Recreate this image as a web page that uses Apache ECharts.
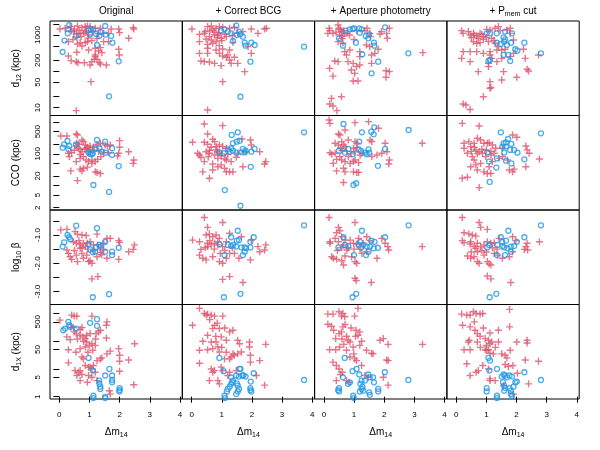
<!DOCTYPE html>
<html><head><meta charset="utf-8">
<script src="https://cdn.jsdelivr.net/npm/echarts@6/dist/echarts.min.js"></script>
<style>html,body{margin:0;padding:0;background:#fff}#c{width:600px;height:450px}</style>
</head><body><div id="c"></div>
<script>
// ---------- text ----------
const columnTitles = ['{a|Original}', '{a|+ Correct BCG}', '{a|+ Aperture photometry}', '{a|+ P}{s|mem}{a| cut}'];
const rowTitles = ['{a|d}{s|12}{a| (kpc)}', '{a|CCO (kpc)}', '{a|log}{s|10}{a| β}', '{a|d}{s|1X}{a| (kpc)}'];
const xTitle = '{a|Δm}{s|14}';

// ---------- ticks ----------
const xTicks = [0, 1, 2, 3, 4];
const d12Ticks = [10, 20, 50, 100, 200, 500, 1000, 2000];
const d12Labels = [10, 50, 200, 1000];
const ccoTicks = [2, 5, 10, 20, 50, 100, 200, 500, 1000];
const ccoLabels = [2, 5, 20, 100, 500];
const betaTicks = [-3, -2.5, -2, -1.5, -1, -0.5];
const betaLabels = [-3, -2, -1];
const d1xTicks = [1, 5, 10, 50, 100, 500, 1000];
const d1xLabels = [1, 5, 50, 500];

// ---------- data: [Δm14, value] ----------
// Row 1: d12 (kpc)
const d12_orig_red = [[0.02,1460],[0.19,1530],[0.36,1700],[0.47,1240],[0.60,1770],[0.75,1590],[0.86,1700],[0.93,1770],[1.02,1700],[0.69,1110],[0.80,1110],[0.58,1070],[0.89,1290],[0.97,1000],[1.19,1530],[1.36,1530],[1.47,1110],[1.63,1110],[1.72,1460],[1.97,1460],[2.0,1160],[2.47,1460],[2.45,1590],[2.30,810],[0.30,656],[0.58,863],[0.69,615],[0.60,566],[0.86,615],[0.93,656],[1.08,698],[0.75,499],[0.97,387],[1.19,430],[1.36,449],[1.47,656],[1.63,656],[1.41,327],[1.30,363],[1.97,404],[1.99,282],[0.58,334],[0.30,264],[0.39,197],[0.56,185],[0.62,173],[0.83,173],[1.02,150],[1.08,185],[1.19,253],[1.16,214],[1.25,214],[1.32,177],[1.36,159],[1.56,150],[1.19,282],[1.05,52],[0.56,8.3],[0.40,1300],[0.50,1450],[0.65,1350],[0.85,1200],[1.10,1250],[0.72,900],[0.95,820],[1.30,1100],[0.45,750],[1.25,800]];
const d12_orig_blue = [[0.33,1880],[0.30,1430],[0.28,1110],[0.17,700],[0.11,340],[0.56,960],[0.97,1370],[1.05,1430],[1.13,1430],[1.02,1040],[1.22,1070],[1.36,1210],[1.33,960],[1.52,1770],[1.53,1020],[1.72,940],[1.76,615],[1.25,530],[1.97,189],[1.65,20.6]];
const d12_bcg_red = [[0.01,1460],[0.26,1040],[0.42,1110],[0.53,1700],[0.65,1770],[0.70,1370],[0.81,1530],[0.92,1700],[1.03,1630],[0.76,1000],[0.87,1000],[0.59,900],[0.48,776],[0.65,730],[0.81,656],[0.98,810],[1.15,900],[1.26,1530],[1.42,1630],[1.53,1110],[1.70,1240],[1.98,1460],[2.20,1110],[2.42,1460],[2.48,1530],[0.26,656],[0.53,553],[0.70,590],[0.92,509],[0.53,430],[0.81,387],[1.03,412],[1.26,387],[1.37,628],[1.87,478],[1.98,313],[0.26,313],[0.53,313],[1.03,264],[1.15,243],[1.26,205],[1.42,243],[0.31,193],[0.42,185],[0.59,181],[0.76,166],[0.98,144],[1.31,166],[1.53,166],[1.76,98],[1.03,52],[0.53,8.6],[0.92,313],[1.20,282],[0.60,1300],[0.75,1200],[0.90,1150],[1.10,1050],[0.45,1250],[1.00,700],[1.35,950],[0.85,850]];
const d12_bcg_blue = [[1.48,1810],[1.09,1430],[0.98,1290],[1.20,1240],[1.31,1110],[1.57,1240],[1.62,1040],[1.50,1000],[1.70,900],[1.37,684],[1.76,615],[1.79,509],[1.98,615],[2.09,531],[1.95,185],[1.62,20],[3.73,478]];
const d12_aper_red = [[0.19,1315],[0.30,1110],[0.13,1110],[0.47,1880],[0.50,1530],[0.58,1240],[0.52,1000],[0.63,940],[0.69,1110],[0.77,1110],[1.08,1315],[1.36,1315],[1.43,1530],[1.52,1110],[1.54,900],[1.91,1240],[2.08,1110],[2.10,810],[2.17,1530],[1.86,1067],[0.47,656],[0.63,590],[0.69,348],[0.75,282],[1.19,348],[1.19,254],[1.41,531],[1.52,478],[1.80,405],[1.69,313],[1.58,282],[1.58,166],[0.36,193],[0.47,185],[0.80,185],[0.97,166],[1.08,135],[1.19,150],[0.91,109],[1.02,88],[0.19,121],[0.30,74],[0.97,54],[1.13,54],[2.06,104],[2.17,98],[2.06,69],[0.25,18],[0.58,20],[0.19,12.6],[0.30,11.1],[0.43,8.3],[3.28,327],[0.17,1530],[0.86,387],[0.55,1400],[0.65,1300],[0.40,1200],[0.85,1000],[1.00,750],[0.60,800]];
const d12_aper_blue = [[0.72,1315],[0.86,1430],[0.95,1460],[1.00,1530],[1.17,1530],[1.25,1430],[1.19,1160],[1.39,940],[1.50,1044],[1.47,810],[0.50,810],[0.63,509],[1.06,615],[1.66,615],[1.67,509],[1.27,294],[1.80,185],[1.58,88],[2.03,1630],[2.80,313]];
const d12_pmem_red = [[0.18,1315],[0.23,1110],[0.40,1240],[0.46,1000],[0.57,1110],[0.68,940],[0.73,810],[0.79,1110],[0.90,900],[1.01,1430],[1.12,1370],[1.29,1530],[1.40,1700],[1.46,1315],[1.68,1370],[1.79,1530],[0.57,656],[0.68,590],[0.79,615],[0.90,760],[1.07,656],[1.18,810],[1.29,590],[1.40,478],[1.51,387],[1.62,405],[1.90,730],[2.23,405],[0.23,348],[0.46,348],[0.68,348],[0.90,313],[1.12,348],[1.35,387],[0.18,228],[0.46,185],[0.73,98],[1.12,282],[1.18,228],[1.07,135],[1.07,166],[1.35,185],[1.51,228],[1.79,254],[1.90,313],[2.29,228],[2.35,114],[2.40,102],[2.01,69],[1.57,98],[1.51,58],[1.12,52],[1.15,36],[1.12,34],[0.90,20],[0.23,12.6],[0.32,11.8],[0.46,8.9],[2.73,282],[1.79,1110],[0.60,1000],[0.85,1050],[1.00,850],[0.50,850],[1.25,700]];
const d12_pmem_blue = [[1.01,1110],[1.12,1110],[1.34,1110],[1.62,1240],[1.85,1110],[1.57,863],[1.62,760],[1.34,615],[1.48,566],[1.59,656],[1.68,531],[1.82,615],[1.96,405],[2.03,371],[2.26,615],[1.57,282],[1.73,282],[1.79,193],[1.12,205],[1.07,193],[2.81,313]];

// Row 2: CCO (kpc)
const cco_orig_red = [[0.05,366],[0.25,366],[0.56,424],[0.60,394],[0.75,274],[0.80,243],[0.58,215],[0.56,177],[0.63,150],[0.69,133],[0.86,191],[0.93,161],[1.02,177],[1.13,161],[1.25,200],[1.36,215],[1.52,191],[1.60,177],[1.69,191],[2.00,261],[2.00,161],[2.30,117],[2.47,64],[2.45,50],[1.97,104],[1.93,86],[0.30,104],[0.33,82],[0.41,109],[0.56,57],[0.69,72],[0.80,82],[0.89,64],[0.97,57],[1.08,64],[1.19,57],[1.27,67],[1.38,82],[1.47,109],[1.63,109],[0.38,29],[0.69,33],[0.75,29],[0.80,35],[0.93,38],[1.08,50],[1.19,27],[1.25,26],[1.36,24],[0.60,14.3],[0.89,150],[0.97,117],[0.75,117],[0.65,200],[0.85,140],[1.00,140],[1.15,130],[0.70,95],[1.30,120],[0.50,130]];
const cco_orig_blue = [[0.11,157],[0.16,200],[0.27,255],[0.30,139],[0.33,177],[0.56,200],[0.97,109],[1.02,99],[1.08,97],[1.11,104],[1.25,274],[1.19,150],[1.33,150],[1.41,117],[1.52,243],[1.53,109],[1.75,150],[1.75,92],[1.97,41],[1.13,10.4],[1.65,6.3]];
const cco_bcg_red = [[0.42,875],[1.03,776],[0.53,424],[0.03,231],[0.42,231],[0.70,288],[0.76,243],[0.53,200],[0.65,161],[0.81,169],[0.92,191],[1.03,169],[1.15,150],[1.67,294],[1.95,274],[1.98,191],[2.26,117],[0.20,104],[0.26,92],[0.31,78],[0.48,117],[0.59,104],[0.76,92],[0.87,72],[0.98,86],[1.15,64],[1.31,57],[1.48,78],[1.53,104],[1.81,117],[0.42,57],[0.70,48],[0.87,39],[0.98,45],[1.09,35],[0.70,31],[1.15,27],[1.26,27],[1.37,27],[1.70,39],[0.37,27],[0.59,16.9],[2.46,57],[2.42,48],[0.92,109],[0.81,133],[0.60,130],[0.85,120],[1.00,100],[1.20,95],[0.55,80],[1.10,70]];
const cco_bcg_blue = [[1.33,394],[1.53,478],[1.37,215],[1.50,243],[1.59,261],[1.70,143],[0.92,112],[1.07,104],[1.20,139],[1.26,117],[1.37,126],[1.48,109],[1.65,112],[1.76,112],[1.79,126],[1.98,117],[2.09,143],[1.96,39],[1.10,7.2],[1.62,2.3],[3.73,478],[1.31,150]];
const cco_aper_red = [[0.17,1170],[0.20,918],[1.03,963],[1.48,1037],[1.81,639],[0.70,566],[0.48,424],[0.53,394],[0.37,215],[0.48,191],[0.59,243],[0.65,191],[0.70,169],[0.81,274],[1.03,243],[1.09,215],[0.98,150],[1.59,243],[1.53,274],[2.03,215],[2.09,117],[2.17,64],[2.15,48],[1.76,92],[1.59,82],[1.26,104],[1.03,117],[0.20,109],[0.26,97],[0.37,104],[0.31,50],[0.42,67],[0.53,82],[0.59,64],[0.70,57],[0.87,50],[0.98,57],[1.03,64],[1.15,53],[0.42,29],[0.65,35],[0.70,27],[0.98,27],[1.09,26],[1.15,26],[0.65,12.4],[3.26,215],[1.92,104],[0.81,82],[0.60,130],[0.75,120],[0.90,100],[1.20,90],[0.55,150],[1.10,160]];
const cco_aper_blue = [[0.65,875],[1.26,478],[1.67,688],[1.57,501],[1.65,413],[2.81,566],[1.17,243],[0.50,126],[0.70,109],[0.81,143],[0.95,97],[1.15,139],[1.23,123],[1.37,109],[1.42,97],[1.50,109],[1.48,139],[2.03,143],[1.79,42],[0.98,10.4],[1.07,11.8]];
const cco_pmem_red = [[0.20,918],[0.76,757],[0.70,309],[0.81,274],[0.26,215],[0.42,243],[0.59,215],[0.26,150],[0.48,169],[0.65,133],[0.76,117],[0.92,215],[1.03,215],[1.09,225],[1.20,191],[1.31,150],[1.53,150],[1.87,394],[2.01,333],[2.31,177],[2.35,133],[2.42,104],[2.76,69],[0.37,104],[0.53,82],[0.59,64],[0.87,104],[0.98,82],[1.15,92],[1.26,104],[1.42,72],[1.20,57],[0.48,39],[0.65,45],[0.70,31],[0.92,27],[1.03,24],[1.15,24],[1.76,31],[1.87,27],[1.92,33],[2.31,39],[0.20,16.9],[0.37,18.2],[0.76,8.6],[1.53,82],[1.70,64],[1.09,39],[0.81,50],[0.60,160],[0.85,140],[1.00,130],[0.70,100],[1.15,120],[0.50,120]];
const cco_pmem_blue = [[1.48,478],[2.81,444],[1.72,294],[1.65,231],[1.83,205],[1.57,215],[1.53,169],[1.65,169],[1.03,112],[1.09,57],[1.35,72],[1.59,109],[1.79,133],[1.92,133],[2.03,109],[1.65,61],[1.83,50],[2.26,67],[1.33,37],[1.11,13]];

// Row 3: log10 beta
const beta_orig_red = [[0.05,-0.82],[0.25,-0.80],[0.52,-0.88],[0.60,-0.97],[0.75,-1.0],[0.89,-1.02],[1.25,-0.97],[0.47,-1.24],[0.56,-1.29],[0.69,-1.35],[0.80,-1.29],[0.86,-1.41],[0.93,-1.29],[1.02,-1.24],[1.13,-1.35],[1.27,-1.35],[1.36,-1.44],[1.47,-1.29],[1.58,-1.12],[1.69,-1.12],[1.97,-1.2],[2.00,-1.26],[2.30,-1.59],[2.45,-1.51],[2.49,-1.35],[1.97,-1.86],[0.25,-1.53],[0.30,-1.65],[0.36,-1.77],[0.41,-1.86],[0.56,-1.71],[0.60,-1.94],[0.75,-1.65],[0.80,-1.82],[0.91,-1.71],[0.97,-1.94],[1.02,-1.91],[1.08,-2.0],[1.25,-1.77],[1.36,-1.62],[1.58,-1.82],[1.08,-2.55],[1.28,-2.47],[0.69,-1.47],[1.47,-1.53],[0.65,-1.2],[0.75,-1.45],[0.95,-1.5],[1.15,-1.55],[1.40,-1.7],[0.50,-1.55]];
const beta_orig_blue = [[0.56,-0.67],[1.25,-0.76],[0.27,-1.0],[0.32,-1.08],[0.36,-1.15],[0.16,-1.26],[0.11,-1.41],[0.97,-1.32],[1.02,-1.51],[1.11,-1.61],[1.19,-1.59],[1.22,-1.44],[1.36,-1.41],[1.33,-1.35],[1.52,-1.24],[1.52,-1.59],[1.75,-1.59],[1.75,-1.71],[1.97,-1.45],[1.11,-3.20],[1.65,-3.09]];
const beta_bcg_red = [[0.42,-0.38],[1.03,-0.56],[0.53,-0.73],[0.03,-1.18],[0.26,-1.24],[0.48,-1.0],[0.59,-0.96],[0.70,-1.06],[0.81,-1.0],[0.92,-1.12],[0.53,-1.29],[0.65,-1.35],[0.76,-1.29],[0.87,-1.35],[1.03,-1.41],[1.15,-1.24],[1.26,-0.94],[1.65,-1.06],[1.98,-1.18],[2.20,-1.41],[2.46,-1.35],[2.26,-1.59],[2.42,-1.53],[0.26,-1.71],[0.37,-1.82],[0.48,-1.88],[0.70,-1.77],[0.92,-1.94],[1.03,-2.0],[1.15,-1.82],[1.26,-1.65],[1.42,-1.65],[1.57,-1.82],[1.95,-1.88],[0.53,-1.41],[0.31,-1.51],[1.03,-2.57],[1.26,-2.47],[1.70,-2.68],[0.87,-1.24],[0.60,-1.2],[0.75,-1.5],[1.10,-1.55],[0.95,-1.65],[1.35,-1.45],[0.45,-1.45]];
const beta_bcg_blue = [[1.53,-0.85],[3.73,-0.66],[1.31,-1.08],[1.57,-1.18],[1.50,-1.20],[2.06,-1.08],[1.95,-1.24],[0.92,-1.33],[1.20,-1.35],[1.31,-1.39],[1.37,-1.35],[1.48,-1.41],[1.65,-1.44],[1.76,-1.44],[1.81,-1.47],[1.76,-1.59],[1.70,-1.71],[1.09,-1.71],[1.95,-1.44],[1.07,-3.20],[1.62,-3.08]];
const beta_aper_red = [[0.17,-0.38],[1.03,-0.56],[0.48,-0.73],[0.42,-0.92],[0.53,-0.85],[0.20,-1.24],[0.20,-1.29],[0.37,-1.12],[0.48,-1.24],[0.59,-1.06],[0.70,-1.18],[0.87,-1.18],[0.98,-1.29],[1.15,-1.12],[1.09,-1.32],[1.42,-1.06],[1.53,-1.20],[1.92,-1.12],[2.03,-1.29],[2.15,-1.53],[2.12,-1.41],[3.26,-1.41],[1.76,-1.82],[0.26,-1.77],[0.31,-1.82],[0.42,-1.86],[0.59,-1.91],[0.65,-2.06],[0.70,-1.74],[0.92,-1.77],[1.03,-1.94],[1.09,-2.0],[1.26,-1.65],[1.42,-1.59],[1.03,-2.53],[1.07,-2.61],[1.57,-2.68],[0.76,-1.53],[0.59,-1.44],[0.65,-1.35],[0.80,-1.45],[1.00,-1.5],[1.20,-1.5],[0.45,-1.55],[1.30,-1.3]];
const beta_aper_blue = [[1.26,-0.85],[2.81,-0.66],[0.65,-1.08],[1.57,-1.20],[1.68,-1.24],[2.03,-1.08],[0.70,-1.35],[0.81,-1.39],[1.20,-1.24],[1.15,-1.35],[1.23,-1.44],[1.31,-1.35],[1.42,-1.41],[1.53,-1.41],[1.65,-1.47],[1.79,-1.45],[0.48,-1.44],[1.48,-1.59],[1.40,-1.71],[1.00,-1.71],[0.95,-3.20],[1.07,-3.08]];
const beta_pmem_red = [[0.20,-0.38],[0.76,-0.56],[0.81,-0.73],[1.03,-0.80],[0.26,-0.92],[0.42,-0.96],[0.53,-1.0],[0.65,-1.04],[0.20,-1.20],[0.26,-1.27],[0.46,-1.32],[0.48,-1.24],[0.70,-1.29],[0.81,-1.41],[0.92,-1.35],[1.03,-1.24],[1.15,-1.29],[1.26,-1.27],[1.42,-1.12],[1.87,-1.06],[1.98,-1.20],[2.35,-1.29],[2.31,-1.41],[2.26,-1.51],[2.37,-1.53],[2.76,-1.24],[0.37,-1.74],[0.48,-1.82],[0.59,-1.77],[0.70,-1.94],[0.76,-2.0],[0.92,-1.71],[1.03,-1.94],[1.09,-2.02],[1.15,-2.06],[1.26,-1.65],[1.37,-1.71],[1.53,-1.82],[1.76,-1.77],[1.87,-1.59],[1.03,-2.45],[1.15,-2.55],[1.81,-2.68],[0.65,-1.47],[0.70,-1.59],[0.60,-1.4],[0.85,-1.55],[1.00,-1.6],[1.20,-1.45],[0.50,-1.6],[1.35,-1.5]];
const beta_pmem_blue = [[1.73,-0.85],[2.81,-0.66],[1.48,-1.08],[1.65,-1.20],[2.26,-1.08],[2.01,-1.24],[1.09,-1.35],[1.03,-1.44],[1.37,-1.35],[1.53,-1.39],[1.59,-1.44],[1.81,-1.41],[1.92,-1.39],[1.70,-1.47],[1.81,-1.59],[1.62,-1.71],[1.35,-1.71],[1.11,-3.20],[1.33,-3.08],[1.53,-1.24]];

// Row 4: d1X (kpc)
const d1x_orig_red = [[0.02,575],[0.41,875],[0.49,804],[0.58,804],[0.38,311],[0.47,311],[0.69,263],[0.75,311],[0.25,143],[0.36,114],[0.49,217],[0.56,188],[0.69,164],[0.78,143],[0.86,124],[0.91,164],[1.02,188],[1.08,804],[1.22,188],[1.30,217],[1.36,249],[1.58,500],[1.56,378],[1.56,131],[0.91,94],[1.08,81],[1.19,71],[0.86,62],[0.69,54],[0.30,49],[1.11,47],[1.25,20],[1.36,23],[1.41,25],[1.58,35],[1.69,44],[1.97,54],[2.0,31],[2.0,19],[2.30,21],[2.50,81],[0.75,27],[0.80,23],[0.86,13.3],[0.97,11.6],[1.02,11.6],[1.13,13.3],[0.69,8.7],[0.63,7.6],[0.75,6.3],[0.52,8.7],[0.58,5.8],[0.69,3.8],[0.97,5.8],[1.08,5.0],[1.19,7.6],[1.25,3.8],[0.30,16.6],[2.0,8.3],[2.47,2.7],[1.66,1.64],[1.69,1.24],[0.93,3.3],[1.08,10],[0.60,120],[0.80,100],[1.00,70],[0.55,40],[1.20,120],[0.95,40]];
const d1x_orig_blue = [[0.13,249],[0.19,286],[0.30,500],[0.33,378],[0.36,329],[0.56,286],[1.02,460],[1.25,625],[1.25,358],[0.97,25],[1.11,8.7],[1.66,10],[1.52,5.8],[1.75,5.8],[1.75,4.0],[1.75,3.3],[1.32,3.8],[1.33,2.9],[1.36,2.3],[1.36,1.9],[1.13,1.08],[1.13,0.89],[1.52,0.99],[1.52,0.89],[2.0,2.05],[2.0,1.73],[1.99,1.55]];
const d1x_bcg_red = [[0.26,1530],[0.03,378],[0.42,1000],[0.48,875],[0.53,950],[0.65,875],[0.76,804],[1.03,804],[0.76,378],[0.70,286],[0.92,286],[0.53,164],[0.65,94],[0.81,94],[0.37,100],[0.26,47],[0.53,49],[0.70,54],[0.87,62],[0.98,143],[1.15,108],[1.26,217],[1.37,249],[1.53,108],[1.59,81],[1.92,94],[2.46,77],[1.37,35],[1.31,27],[1.26,23],[1.42,31],[1.53,35],[1.65,41],[1.92,62],[1.95,31],[1.95,17.6],[2.26,20],[0.26,16.1],[0.65,10],[0.70,7.6],[0.76,8.7],[1.03,8.7],[0.98,11.6],[0.92,41],[0.59,3.8],[0.87,3.8],[0.92,2.9],[1.20,5.8],[1.26,7.6],[1.48,8.7],[2.15,5.8],[2.42,2.6],[1.09,23],[0.60,600],[0.85,450],[1.10,300],[1.00,60],[1.15,40],[0.80,150]];
const d1x_bcg_blue = [[0.92,25],[1.06,8.3],[1.62,10],[1.31,5.0],[1.48,5.8],[1.57,5.3],[1.68,5.8],[1.72,5.8],[1.79,5.3],[2.06,7.0],[1.37,3.8],[1.31,2.9],[1.26,2.3],[1.20,1.9],[1.17,1.55],[1.50,3.0],[1.53,2.5],[1.57,1.9],[1.53,1.55],[1.48,1.24],[1.09,1.08],[1.11,0.89],[1.96,3.5],[1.95,2.05],[1.95,1.73],[1.98,1.55],[3.73,4.0],[1.59,10],[1.35,3.3]];
const d1x_aper_red = [[0.13,950],[0.30,950],[0.50,1156],[0.63,1000],[0.58,804],[0.69,760],[1.02,804],[1.13,1530],[0.13,411],[0.25,348],[0.32,249],[0.39,124],[0.50,188],[0.58,217],[0.63,329],[0.75,151],[0.80,108],[0.86,94],[1.06,249],[1.13,164],[1.19,217],[0.19,49],[0.39,49],[0.52,62],[0.66,77],[0.75,47],[0.99,35],[1.02,23],[1.08,20],[1.41,47],[1.58,37],[1.63,35],[1.86,108],[1.97,124],[2.13,77],[2.08,21],[2.13,20],[0.30,17.6],[0.41,13.3],[0.50,10],[0.61,7.6],[0.55,6.3],[0.41,3.8],[0.75,3.8],[0.83,3.3],[1.25,13.3],[1.36,5.8],[1.47,5.0],[1.97,5.0],[2.13,2.6],[0.86,27],[1.19,71],[0.97,62],[3.27,77],[0.70,400],[0.90,300],[1.05,150],[1.25,100],[0.60,120]];
const d1x_aper_blue = [[0.69,25],[1.08,10],[0.95,8.3],[0.63,5.0],[0.86,3.3],[0.80,2.9],[0.50,2.05],[0.47,1.73],[0.50,1.55],[0.97,1.08],[0.99,0.89],[1.17,6.3],[1.25,3.8],[1.21,2.9],[1.28,2.3],[1.25,1.9],[1.19,1.55],[1.47,6.3],[1.52,5.0],[1.63,5.0],[1.66,3.3],[1.50,1.43],[1.52,1.17],[1.80,1.9],[1.80,1.55],[2.02,7.6],[1.36,3.8],[1.30,1.64],[2.80,4.0]];
const d1x_pmem_red = [[0.18,950],[0.21,378],[0.35,875],[0.46,875],[0.57,1156],[0.66,1000],[0.79,950],[0.88,1000],[0.46,329],[0.62,249],[0.70,188],[0.79,151],[0.43,108],[0.40,94],[0.26,49],[0.46,49],[0.70,94],[0.96,124],[1.07,108],[1.12,199],[1.12,81],[1.18,94],[1.07,49],[1.01,47],[0.96,49],[1.12,37],[1.23,35],[1.40,249],[1.40,94],[1.51,35],[1.62,31],[1.68,25],[1.79,47],[1.77,329],[1.77,1406],[2.01,94],[2.35,86],[2.35,108],[2.29,21],[2.73,19],[0.35,15.3],[0.46,5.8],[0.73,8.7],[0.66,7.6],[0.88,13.3],[1.12,4.4],[1.12,3.8],[1.29,3.8],[1.57,2.5],[1.88,13.3],[1.73,12.2],[1.62,14.5],[2.03,7.0],[2.40,2.9],[1.90,1.24],[1.07,10],[0.80,60],[1.00,70],[1.30,60],[0.60,500],[0.90,300]];
const d1x_pmem_blue = [[1.07,25],[1.10,8.7],[1.35,10],[1.01,2.05],[1.01,1.55],[1.35,1.08],[1.35,0.89],[1.51,5.3],[1.57,6.3],[1.62,5.8],[1.68,5.0],[1.77,5.8],[1.85,5.3],[1.96,3.3],[2.01,3.5],[1.55,3.3],[1.59,2.5],[1.62,2.05],[1.59,1.64],[1.77,2.05],[1.81,1.64],[1.81,1.24],[1.85,1.08],[1.90,2.3],[2.26,7.6],[2.81,4.0],[1.12,20]];

// ---------- build ----------
const FONT = '"Liberation Sans", Arial, Helvetica, sans-serif';
const RED = '#DF536B', BLUE = '#2297E6';
const PLUS = 'path://M4,0H6V4H10V6H6V10H4V6H0V4H4Z';

const panels = [
  [[d12_orig_red, d12_orig_blue], [d12_bcg_red, d12_bcg_blue], [d12_aper_red, d12_aper_blue], [d12_pmem_red, d12_pmem_blue]],
  [[cco_orig_red, cco_orig_blue], [cco_bcg_red, cco_bcg_blue], [cco_aper_red, cco_aper_blue], [cco_pmem_red, cco_pmem_blue]],
  [[beta_orig_red, beta_orig_blue], [beta_bcg_red, beta_bcg_blue], [beta_aper_red, beta_aper_blue], [beta_pmem_red, beta_pmem_blue]],
  [[d1x_orig_red, d1x_orig_blue], [d1x_bcg_red, d1x_bcg_blue], [d1x_aper_red, d1x_aper_blue], [d1x_pmem_red, d1x_pmem_blue]]
];
const rows = [
  {log: true, min: 0.785, max: 3.385, ticks: d12Ticks, labels: d12Labels},
  {log: true, min: 0.228, max: 3.210, ticks: ccoTicks, labels: ccoLabels},
  {log: false, min: -3.456, max: -0.117, ticks: betaTicks, labels: betaLabels},
  {log: true, min: -0.084, max: 3.324, ticks: d1xTicks, labels: d1xLabels}
];

const richSub = {
  a: {fontSize: 10, fontFamily: FONT, color: '#000', fontWeight: 'normal'},
  s: {fontSize: 7, fontFamily: FONT, color: '#000', fontWeight: 'normal', lineHeight: 7, padding: [6, 0, 0, 0]}
};

const GL = 50, GW = 132.3, GT = 21, GH = 94.5;
const grids = [], xAxes = [], yAxes = [], series = [], titles = [];
for (let r = 0; r < 4; r++) {
  const rd = rows[r];
  const tr = v => rd.log ? Math.log10(v) : v;
  for (let c = 0; c < 4; c++) {
    const i = r * 4 + c;
    grids.push({left: GL + c * GW, top: GT + r * GH, width: GW, height: GH, show: true,
      borderColor: '#000', borderWidth: 1, backgroundColor: 'transparent', containLabel: false});
    xAxes.push({
      gridIndex: i, type: 'value', min: -0.31, max: 4.08,
      axisLine: {show: false}, splitLine: {show: false},
      axisTick: {show: r === 3, length: 6, customValues: xTicks, lineStyle: {color: '#000', width: 1}},
      axisLabel: {show: r === 3, customValues: xTicks, margin: 12, fontSize: 8, color: '#000', fontFamily: FONT},
      name: r === 3 ? xTitle : '', nameLocation: 'middle', nameGap: 28,
      nameTextStyle: {rich: richSub}
    });
    yAxes.push({
      gridIndex: i, type: 'value', min: rd.min, max: rd.max,
      axisLine: {show: false}, splitLine: {show: false},
      axisTick: {show: c === 0, length: 6, customValues: rd.ticks.map(tr), lineStyle: {color: '#000', width: 1}},
      axisLabel: {show: c === 0, customValues: rd.labels.map(tr), rotate: 90, margin: 8, fontSize: 8,
        color: '#000', fontFamily: FONT,
        formatter: v => rd.log ? String(Math.round(Math.pow(10, v))) : Number(v).toFixed(1)},
      name: c === 0 ? rowTitles[r] : '', nameLocation: 'middle', nameGap: 29, nameRotate: 90,
      nameTextStyle: {rich: richSub}
    });
    const [red, blue] = panels[r][c];
    series.push({
      type: 'scatter', xAxisIndex: i, yAxisIndex: i, silent: true, animation: false,
      symbol: PLUS, symbolSize: 7,
      itemStyle: {color: RED, opacity: 0.8},
      emphasis: {disabled: true},
      data: red.map(p => [p[0], tr(p[1])])
    });
    series.push({
      type: 'scatter', xAxisIndex: i, yAxisIndex: i, silent: true, animation: false,
      symbol: 'circle', symbolSize: 5,
      itemStyle: {color: 'rgba(0,0,0,0)', borderColor: BLUE, borderWidth: 1.3},
      emphasis: {disabled: true},
      data: blue.map(p => [p[0], tr(p[1])])
    });
  }
}
for (let c = 0; c < 4; c++) {
  titles.push({text: columnTitles[c], left: GL + c * GW + GW / 2, top: 6, textAlign: 'center',
    padding: 0, textStyle: {fontWeight: 'normal', rich: richSub}});
}

const chart = echarts.init(document.getElementById('c'), null, {renderer: 'canvas'});
chart.setOption({
  animation: false, backgroundColor: '#fff',
  title: titles, grid: grids, xAxis: xAxes, yAxis: yAxes, series: series
});
</script></body></html>
